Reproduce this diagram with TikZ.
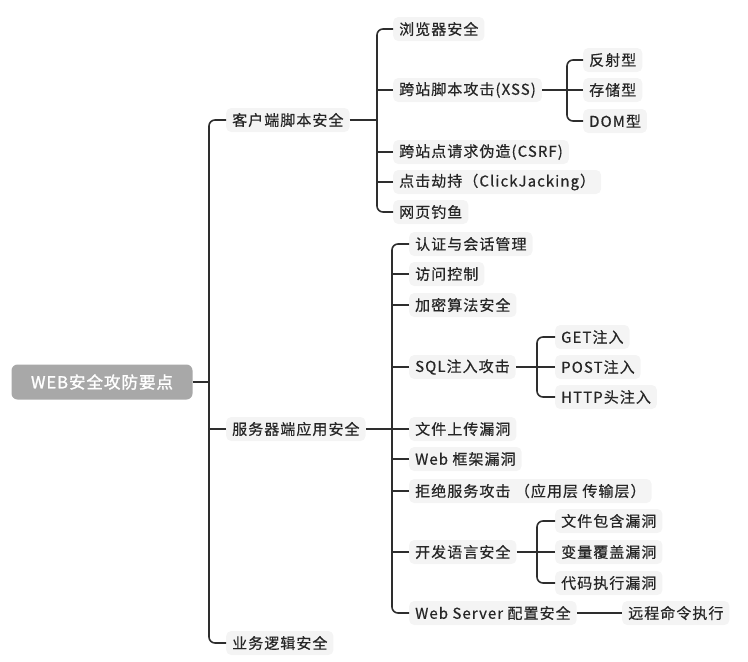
\documentclass[tikz,border=0pt]{standalone}
\usepackage{fontspec}
\usepackage{tikz}
\newfontfamily\cjk[LetterSpace=7,FakeBold=0.5]{Noto Sans CJK SC}
\newfontfamily\cjkroot[LetterSpace=6,FakeBold=1.6]{Noto Sans CJK SC}
\definecolor{linegray}{HTML}{2E2E2E}
\definecolor{boxgray}{HTML}{F4F4F4}
\definecolor{rootgray}{HTML}{A8A8A8}

\begin{document}
\begin{tikzpicture}[x=1pt,y=-1pt,
  leaf/.style={anchor=west,fill=boxgray,rounded corners=5pt,inner xsep=6pt,inner ysep=0pt,
    minimum height=24pt,text=black!85,font=\cjk\fontsize{15}{17}\selectfont},
  rootbox/.style={fill=rootgray,rounded corners=6pt,text=white,minimum width=181pt,
    minimum height=35pt,font=\cjkroot\fontsize{16.5}{19}\selectfont},
  link/.style={draw=linegray,line width=1.6pt,rounded corners=6pt}]
\useasboundingbox (0,0) rectangle (748,662);
% trunks
\coordinate (t0) at (209,0);
\coordinate (t1) at (377,0);
\coordinate (t2) at (567,0);
\coordinate (t3) at (392,0);
\coordinate (t4) at (537,0);
% root and first level
\node[rootbox] (web) at (102,382) {WEB安全攻防要点};
\node[leaf] (client) at (226,120) {客户端脚本安全};
\node[leaf] (server) at (226,429) {服务器端应用安全};
\node[leaf] (logic) at (226,643) {业务逻辑安全};
% client side
\node[leaf] (browser) at (393,29) {浏览器安全};
\node[leaf] (xss) at (393,90) {跨站脚本攻击(XSS)};
\node[leaf] (csrf) at (393,152) {跨站点请求伪造(CSRF)};
\node[leaf] (click) at (393,182) {点击劫持（ClickJacking）};
\node[leaf] (phish) at (393,212) {网页钓鱼};
\node[leaf] (reflect) at (583,60) {反射型};
\node[leaf] (stored) at (583,90) {存储型};
\node[leaf] (dom) at (583,121) {DOM型};
% server side
\node[leaf] (auth) at (409,244) {认证与会话管理};
\node[leaf] (access) at (409,274) {访问控制};
\node[leaf] (crypto) at (409,305) {加密算法安全};
\node[leaf] (sql) at (409,367) {SQL注入攻击};
\node[leaf] (upload) at (409,429) {文件上传漏洞};
\node[leaf] (frame) at (409,459) {Web 框架漏洞};
\node[leaf] (dos) at (409,491) {拒绝服务攻击 （应用层 传输层）};
\node[leaf] (lang) at (409,552) {开发语言安全};
\node[leaf] (wserver) at (409,613) {Web Server 配置安全};
\node[leaf] (get) at (555,337) {GET注入};
\node[leaf] (post) at (555,367) {POST注入};
\node[leaf] (httph) at (555,397) {HTTP头注入};
\node[leaf] (incl) at (555,521) {文件包含漏洞};
\node[leaf] (var) at (555,552) {变量覆盖漏洞};
\node[leaf] (exec) at (555,583) {代码执行漏洞};
\node[leaf] (rce) at (622,613) {远程命令执行};
% connectors
\draw[link] (web.east) -- (web.east -| t0);
\draw[link] (client.west) -| (t0 |- logic.west) -- (logic.west);
\draw[link] (server.west) -- (server.west -| t0);

\draw[link] (client.east) -- (client.east -| t1);
\draw[link] (browser.west) -| (t1 |- phish.west) -- (phish.west);
\foreach \n in {xss,csrf,click}
  \draw[link] (\n.west) -- (\n.west -| t1);

\draw[link] (xss.east) -- (xss.east -| t2);
\draw[link] (reflect.west) -| (t2 |- dom.west) -- (dom.west);
\draw[link] (stored.west) -- (stored.west -| t2);

\draw[link] (server.east) -- (server.east -| t3);
\draw[link] (auth.west) -| (t3 |- wserver.west) -- (wserver.west);
\foreach \n in {access,crypto,sql,upload,frame,dos,lang}
  \draw[link] (\n.west) -- (\n.west -| t3);

\draw[link] (sql.east) -- (sql.east -| t4);
\draw[link] (get.west) -| (t4 |- httph.west) -- (httph.west);
\draw[link] (post.west) -- (post.west -| t4);

\draw[link] (lang.east) -- (lang.east -| t4);
\draw[link] (incl.west) -| (t4 |- exec.west) -- (exec.west);
\draw[link] (var.west) -- (var.west -| t4);

\draw[link] (wserver.east) -- (rce.west);
\end{tikzpicture}
\end{document}
